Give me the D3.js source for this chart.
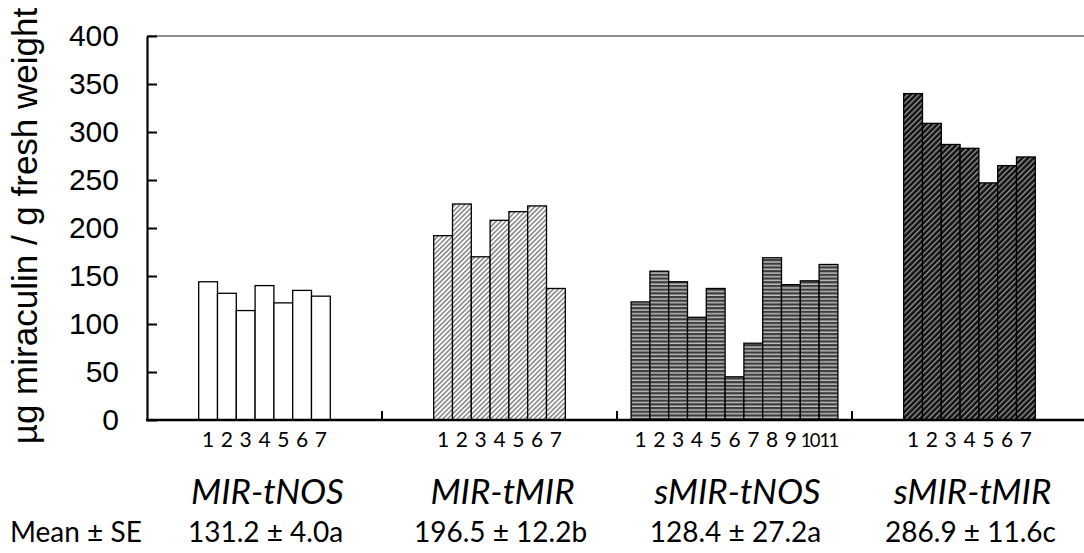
<!DOCTYPE html>
<html><head><meta charset="utf-8">
<script src="https://cdn.jsdelivr.net/npm/d3@7"></script>
<style>body{margin:0;background:#fff}svg{display:block}</style>
</head><body>
<svg id="chart" width="1084" height="553"></svg>
<script>
const groups = ["MIR-tNOS", "MIR-tMIR", "sMIR-tNOS", "sMIR-tMIR"];
const valuesMIRtNOS = [144, 132, 114, 140, 122, 135, 129];
const valuesMIRtMIR = [192, 225, 170, 208, 217, 223, 137];
const valuesSMIRtNOS = [123, 155, 144, 107, 137, 45, 80, 169, 141, 145, 162];
const valuesSMIRtMIR = [340, 309, 287, 283, 247, 265, 274];
const meanLabels = ["131.2 \u00b1 4.0a", "196.5 \u00b1 12.2b", "128.4 \u00b1 27.2a", "286.9 \u00b1 11.6c"];
const yTicks = [0, 50, 100, 150, 200, 250, 300, 350, 400];
const yTitle = "\u00b5g miraculin / g fresh weight";
const meanRowTitle = "Mean \u00b1 SE";

const series = [valuesMIRtNOS, valuesMIRtMIR, valuesSMIRtNOS, valuesSMIRtMIR];
const fills = ["#ffffff", "url(#hatchLight)", "url(#hstripe)", "url(#hatchDark)"];

const svg = d3.select("#chart");
const L = 147, R = 1087, T = 36, B = 420;

// patterns
const defs = svg.append("defs");
const p1 = defs.append("pattern").attr("id", "hatchLight").attr("patternUnits", "userSpaceOnUse")
  .attr("width", 3.4).attr("height", 3.4).attr("patternTransform", "rotate(45)");
p1.append("rect").attr("width", 3.4).attr("height", 3.4).attr("fill", "#ffffff");
p1.append("rect").attr("width", 1.4).attr("height", 3.4).attr("fill", "#7a7a7a");

const p2 = defs.append("pattern").attr("id", "hstripe").attr("patternUnits", "userSpaceOnUse")
  .attr("width", 4).attr("height", 3.7);
p2.append("rect").attr("width", 4).attr("height", 3.7).attr("fill", "#3c3c3c");
p2.append("rect").attr("y", 2.3).attr("width", 4).attr("height", 1.3).attr("fill", "#d0d0d0");

const p3 = defs.append("pattern").attr("id", "hatchDark").attr("patternUnits", "userSpaceOnUse")
  .attr("width", 4).attr("height", 4).attr("patternTransform", "rotate(45)");
p3.append("rect").attr("width", 4).attr("height", 4).attr("fill", "#111111");
p3.append("rect").attr("width", 1.3).attr("height", 4).attr("fill", "#9a9a9a");

const x = d3.scaleBand().domain(groups).range([L, R]).padding(0);
const y = d3.scaleLinear().domain([0, 400]).range([B, T]);
const barW = x.bandwidth() * 0.08;

// top grey line
svg.append("line").attr("x1", L).attr("x2", 1084).attr("y1", y(400)).attr("y2", y(400))
  .attr("stroke", "#8c8c8c").attr("stroke-width", 2);

// bars
groups.forEach((g, gi) => {
  const vals = series[gi];
  const c = x(g) + x.bandwidth() / 2;
  const inner = d3.scaleBand().domain(d3.range(vals.length))
    .range([c - vals.length * barW / 2, c + vals.length * barW / 2]).padding(0);
  const gg = svg.append("g");
  gg.selectAll("rect").data(vals).join("rect")
    .attr("x", (d, i) => inner(i)).attr("width", inner.bandwidth())
    .attr("y", d => y(d)).attr("height", d => y(0) - y(d))
    .attr("fill", fills[gi]).attr("stroke", "#000").attr("stroke-width", 1.3);
  gg.selectAll("text").data(vals).join("text")
    .attr("x", (d, i) => inner(i) + inner.bandwidth() / 2).attr("y", 447)
    .attr("text-anchor", "middle").attr("font-family", "Lato, 'Open Sans', sans-serif")
    .attr("font-size", (d, i) => i >= 9 ? 18.5 : 21)
    .attr("letter-spacing", (d, i) => i >= 9 ? -1.8 : 0)
    .attr("fill", "#000").text((d, i) => String(i + 1));
});

// y axis
const yAxis = d3.axisLeft(y).tickValues(yTicks).tickSizeInner(-10).tickSizeOuter(0).tickPadding(28);
const ya = svg.append("g").attr("transform", `translate(${L},0)`).call(yAxis);
ya.select(".domain").attr("stroke", "#000").attr("stroke-width", 2.2);
ya.selectAll(".tick line").attr("stroke", "#000").attr("stroke-width", 2);
ya.selectAll(".tick text").attr("font-family", "'Liberation Sans', Arial, sans-serif")
  .attr("font-size", 30).attr("fill", "#000");

// x axis
svg.append("line").attr("x1", L - 1).attr("x2", 1084).attr("y1", B).attr("y2", B)
  .attr("stroke", "#000").attr("stroke-width", 2.4);
svg.selectAll(".gtick").data(groups.slice(1)).join("line").attr("class", "gtick")
  .attr("x1", d => x(d)).attr("x2", d => x(d)).attr("y1", B).attr("y2", B - 9)
  .attr("stroke", "#000").attr("stroke-width", 2);

// group labels
svg.selectAll(".glabel").data(groups).join("text").attr("class", "glabel")
  .attr("x", d => x(d) + x.bandwidth() / 2 + 3).attr("y", 504)
  .attr("text-anchor", "middle").attr("font-family", "Lato, 'Open Sans', sans-serif")
  .attr("font-style", "italic").attr("font-size", 35).attr("fill", "#000").text(d => d);

// mean row
svg.append("text").attr("x", 10).attr("y", 542).attr("font-family", "Lato, 'Open Sans', sans-serif")
  .attr("font-size", 28).attr("fill", "#000").text(meanRowTitle);
svg.selectAll(".mlabel").data(groups).join("text").attr("class", "mlabel")
  .attr("x", d => x(d) + x.bandwidth() / 2 + 1).attr("y", 542)
  .attr("text-anchor", "middle").attr("font-family", "Lato, 'Open Sans', sans-serif")
  .attr("font-size", 28).attr("fill", "#000").text((d, i) => meanLabels[i]);

// y title
svg.append("text").attr("transform", `translate(37,${226}) rotate(-90)`)
  .attr("text-anchor", "middle").attr("font-family", "'Liberation Sans', Arial, sans-serif")
  .attr("font-size", 35).attr("fill", "#000").text(yTitle);
</script>
</body></html>
